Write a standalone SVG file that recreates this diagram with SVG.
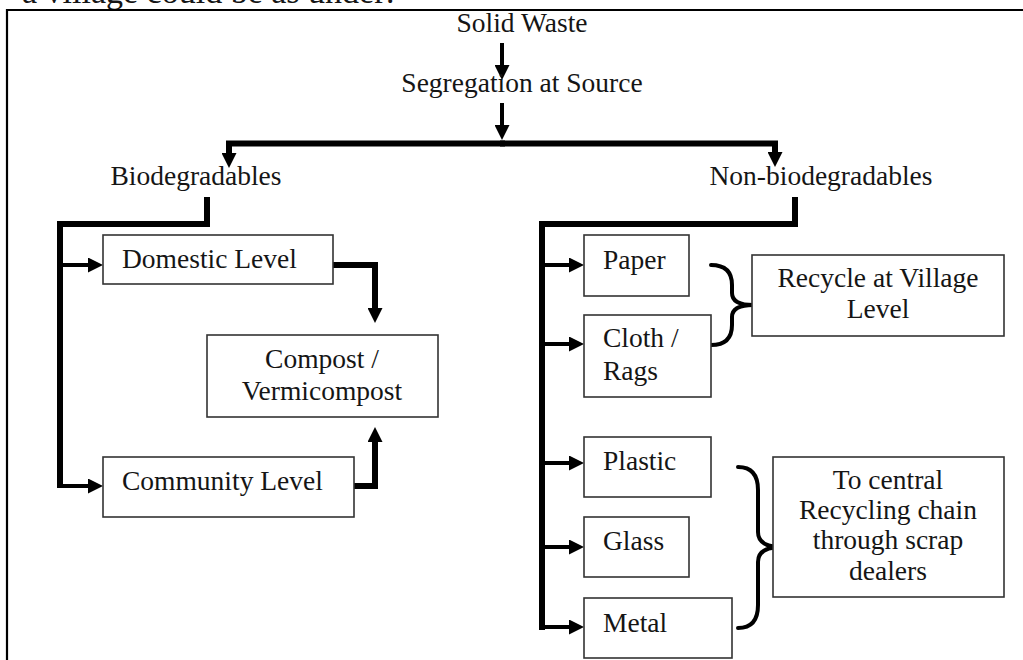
<svg xmlns="http://www.w3.org/2000/svg" width="1023" height="660" viewBox="0 0 1023 660">
<style>
text{font-family:"Liberation Serif","Times New Roman",serif;font-size:27.5px;fill:#151515}
.c{text-anchor:middle}
.box{fill:#fff;stroke:#333;stroke-width:1.6}
.frame{stroke:#000;stroke-width:2.2;fill:none}
.thick{stroke:#000;stroke-width:6;fill:none;stroke-linejoin:miter}
.thin{stroke:#000;stroke-width:4;fill:none}
.brace{stroke:#000;stroke-width:4;fill:none;stroke-linecap:round}
</style>
<defs>
<marker id="ah" markerUnits="userSpaceOnUse" markerWidth="15" markerHeight="15" refX="1" refY="7.5" orient="auto" viewBox="0 0 15 15">
<path d="M0,0 L15,7.5 L0,15 z" fill="#000"/>
</marker>
</defs>
<rect width="1023" height="660" fill="#fff"/>
<text x="22" y="3" style="font-size:34px">a village could be as under:</text>
<path class="frame" d="M7,660 V10 H1023"/>
<g id="connectors">
<path class="thin" d="M502,43 V66" marker-end="url(#ah)"/>
<path class="thin" d="M502,103 V126" marker-end="url(#ah)"/>
<path class="thick" d="M505,143.5 H229 V154" marker-end="url(#ah)"/>
<path class="thick" d="M500,143.5 H775 V153" marker-end="url(#ah)"/>
<path class="thick" d="M207,197 V224 H60 V488"/>
<path class="thin" d="M60,265 H89" marker-end="url(#ah)"/>
<path class="thin" d="M60,486 H89" marker-end="url(#ah)"/>
<path class="thick" d="M312,265 H375 V309" marker-end="url(#ah)"/>
<path class="thick" d="M333,486 H375 V441" marker-end="url(#ah)"/>
<path class="thick" d="M795,197 V224 H542 V630"/>
<path class="thin" d="M542,265 H570" marker-end="url(#ah)"/>
<path class="thin" d="M542,344 H570" marker-end="url(#ah)"/>
<path class="thin" d="M542,463 H570" marker-end="url(#ah)"/>
<path class="thin" d="M542,547 H570" marker-end="url(#ah)"/>
<path class="thin" d="M542,627 H570" marker-end="url(#ah)"/>
<path class="brace" d="M711,265 Q732,265 732,285 L732,293 Q732,305 753,305 Q732,305 732,317 L732,325 Q732,345 711,345"/>
<path class="brace" d="M738,467 Q758,467 758,490 L758,532 Q758,547 782,547 Q758,547 758,562 L758,605 Q758,628 738,628"/>
</g>
<g id="solid-waste"><text class="c" x="522" y="32">Solid Waste</text></g>
<g id="segregation"><text class="c" x="522" y="92">Segregation at Source</text></g>
<g id="biodegradables"><text class="c" x="196" y="185">Biodegradables</text></g>
<g id="non-biodegradables"><text class="c" x="821" y="185">Non-biodegradables</text></g>
<g id="domestic"><rect class="box" x="103" y="235" width="230" height="49"/><text x="122" y="268">Domestic Level</text></g>
<g id="compost"><rect class="box" x="207" y="335" width="231" height="82"/><text class="c" x="322" y="368">Compost /</text><text class="c" x="322" y="400">Vermicompost</text></g>
<g id="community"><rect class="box" x="103" y="457" width="251" height="60"/><text x="122" y="490">Community Level</text></g>
<g id="paper"><rect class="box" x="584" y="235" width="105" height="61"/><text x="603" y="269">Paper</text></g>
<g id="cloth"><rect class="box" x="584" y="315" width="127" height="82"/><text x="603" y="347">Cloth /</text><text x="603" y="380">Rags</text></g>
<g id="recycle-village"><rect class="box" x="752" y="255" width="252" height="81"/><text class="c" x="878" y="287">Recycle at Village</text><text class="c" x="878" y="318">Level</text></g>
<g id="plastic"><rect class="box" x="584" y="437" width="127" height="60"/><text x="603" y="470">Plastic</text></g>
<g id="glass"><rect class="box" x="584" y="517" width="105" height="60"/><text x="603" y="550">Glass</text></g>
<g id="metal"><rect class="box" x="584" y="598" width="148" height="60"/><text x="603" y="632">Metal</text></g>
<g id="central-recycling"><rect class="box" x="773" y="457" width="231" height="140"/><text class="c" x="888" y="489">To central</text><text class="c" x="888" y="519">Recycling chain</text><text class="c" x="888" y="549">through scrap</text><text class="c" x="888" y="580">dealers</text></g>
</svg>
